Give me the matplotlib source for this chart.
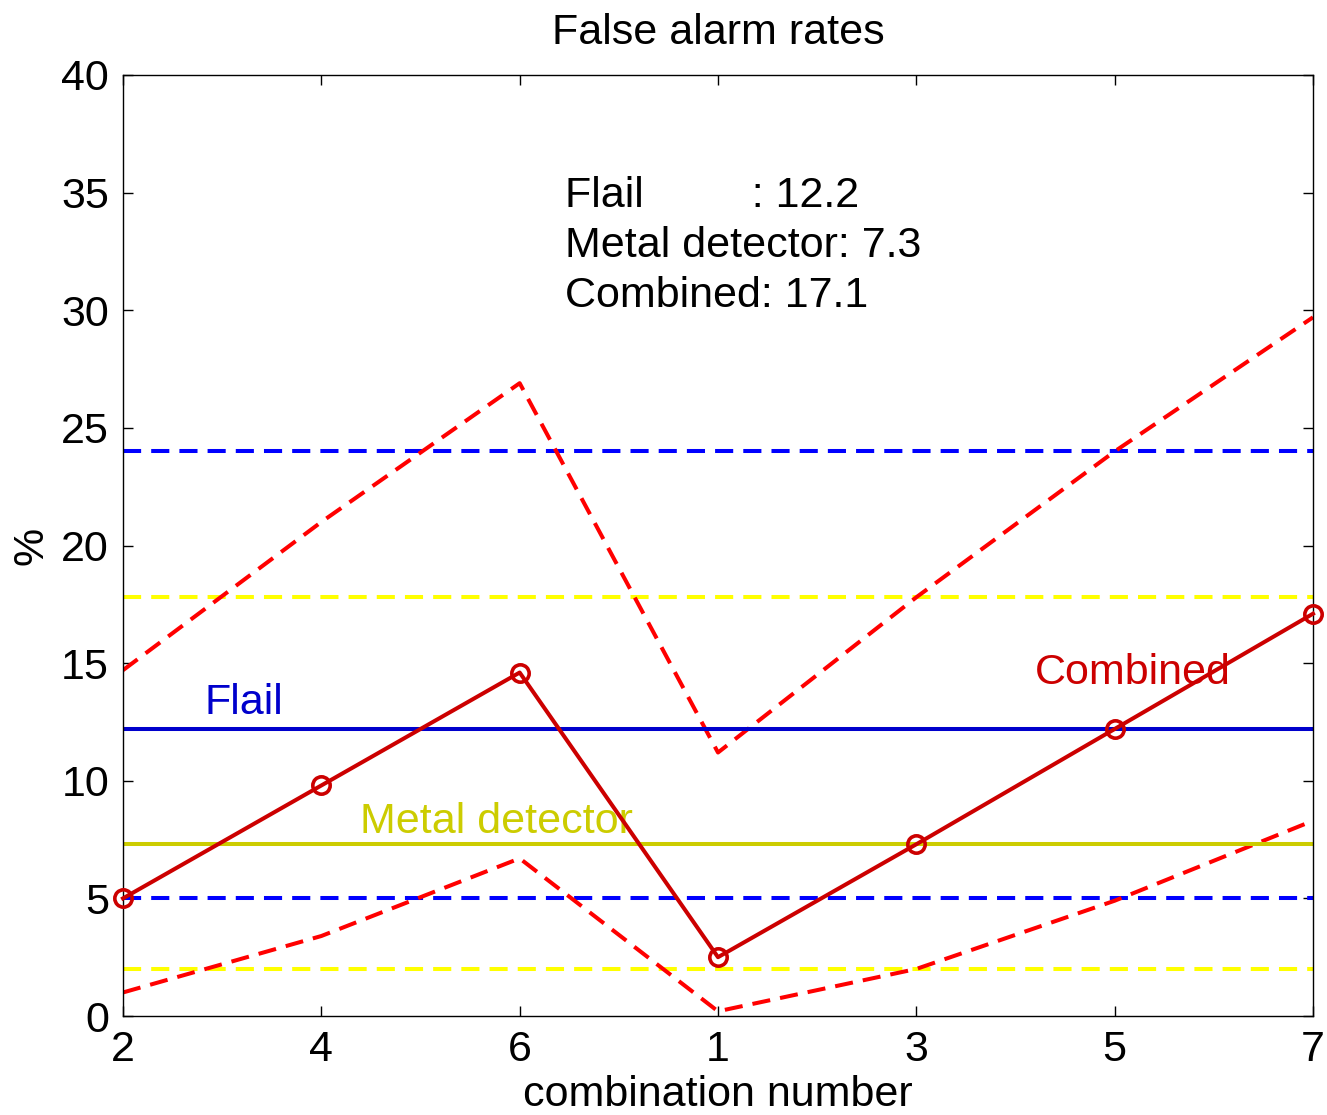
import matplotlib
matplotlib.use("Agg")
import matplotlib.pyplot as plt
import numpy as np

plt.rcParams['font.family'] = ['Liberation Sans', 'DejaVu Sans']

# Data
combination_labels = ['2', '4', '6', '1', '3', '5', '7']
combined = [5.0, 9.8, 14.6, 2.5, 7.3, 12.2, 17.1]
combined_upper = [14.7, 21.0, 26.9, 11.2, 17.8, 24.0, 29.7]
combined_lower = [1.0, 3.4, 6.7, 0.2, 2.0, 4.9, 8.3]
flail_rate = 12.2
flail_bounds = [5.0, 24.0]
metal_rate = 7.3
metal_bounds = [2.0, 17.8]

x = np.arange(len(combination_labels))
n = len(x)

fig = plt.figure(figsize=(13.27, 11.15), dpi=100)
ax = fig.add_axes([123/1327, 1 - 1016/1115, (1313-123)/1327, (1016-75)/1115])

lw = 2.9
dash = (0, (4.5, 2.5))

# confidence bounds (dashed)
for b in flail_bounds:
    ax.plot(x, [b]*n, color=(0, 0, 1), lw=lw, linestyle=dash)
for b in metal_bounds:
    ax.plot(x, [b]*n, color=(1, 1, 0), lw=lw, linestyle=dash)
ax.plot(x, combined_upper, color=(1, 0, 0), lw=lw, linestyle=dash)
ax.plot(x, combined_lower, color=(1, 0, 0), lw=lw, linestyle=dash)

# rates (solid)
ax.plot(x, [flail_rate]*n, color=(0, 0, 0.8), lw=lw)
ax.plot(x, [metal_rate]*n, color=(0.8, 0.8, 0), lw=lw)
ax.plot(x, combined, color=(0.8, 0, 0), lw=lw, marker='o', markersize=12.5,
        markerfacecolor='none', markeredgewidth=2.6, clip_on=False, zorder=5)

fs = 31
ax.text(0.413, 12.84, 'Flail', color=(0, 0, 0.8), fontsize=fs)
ax.text(1.195, 7.8, 'Metal detector', color=(0.8, 0.8, 0), fontsize=fs)
ax.text(4.598, 14.13, 'Combined', color=(0.8, 0, 0), fontsize=fs)

ax.text(2.227, 34.41, 'Flail         : %.1f' % flail_rate, fontsize=fs)
ax.text(2.227, 32.28, 'Metal detector: %.1f' % metal_rate, fontsize=fs)
ax.text(2.227, 30.15, 'Combined: %.1f' % combined[-1], fontsize=fs)

ax.set_xlim(0, n - 1)
ax.set_ylim(0, 40)
ax.set_xticks(x)
ax.set_xticklabels(combination_labels)
ax.set_yticks(np.arange(0, 41, 5))
ax.tick_params(direction='in', length=7, width=1, labelsize=fs,
               top=True, right=True, pad=10)
for s in ax.spines.values():
    s.set_linewidth(1.0)

ax.set_title('False alarm rates', fontsize=fs, pad=22)
ax.set_xlabel('combination number', fontsize=fs, labelpad=4)
ax.set_ylabel('%', fontsize=fs, labelpad=7)

fig.savefig('out.png', dpi=100)
